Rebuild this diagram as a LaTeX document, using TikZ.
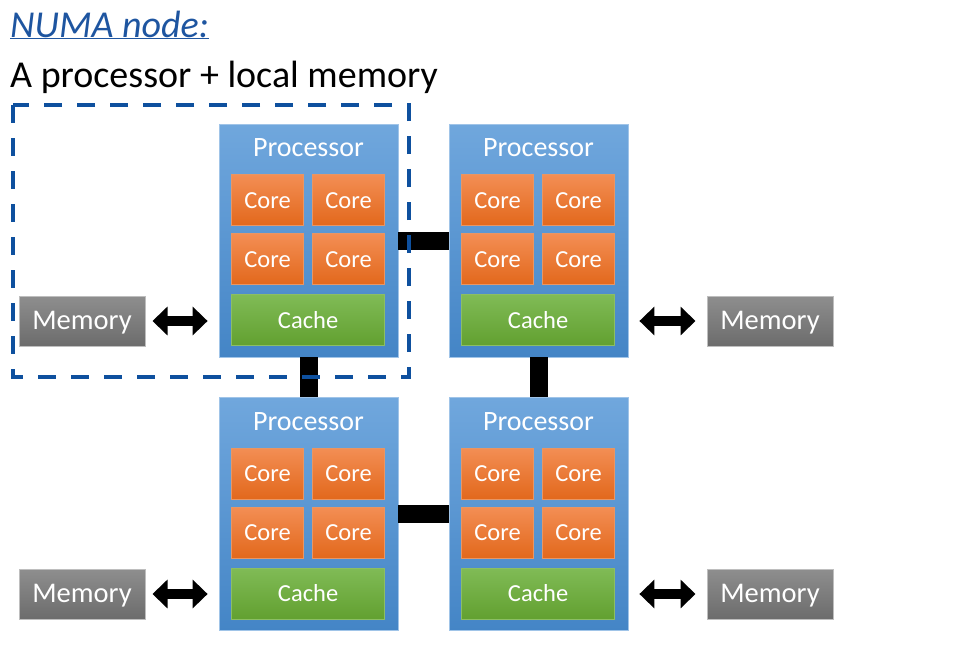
\documentclass[tikz,border=0pt]{standalone}
\usepackage{fontspec}
\setmainfont{Carlito}
\usetikzlibrary{arrows.meta}
\definecolor{procT}{RGB}{112,167,221}
\definecolor{procB}{RGB}{68,133,198}
\definecolor{procD}{RGB}{160,196,232}
\definecolor{coreT}{RGB}{243,142,84}
\definecolor{coreB}{RGB}{226,104,28}
\definecolor{coreD}{RGB}{232,150,100}
\definecolor{cacheT}{RGB}{128,187,86}
\definecolor{cacheB}{RGB}{98,160,48}
\definecolor{cacheD}{RGB}{140,190,100}
\definecolor{memT}{RGB}{142,142,142}
\definecolor{memB}{RGB}{108,108,108}
\definecolor{memD}{RGB}{190,190,190}
\definecolor{titleblue}{RGB}{30,85,160}
\definecolor{dashblue}{RGB}{14,80,158}
\tikzset{
  proc/.style={draw=procD, line width=0.8pt, top color=procT, bottom color=procB,
    minimum width=179pt, minimum height=233pt, inner sep=0pt},
  ptitle/.style={anchor=base, inner sep=0pt, text=white, font=\fontsize{28}{30}\selectfont},
  core/.style={draw=coreD, line width=0.6pt, top color=coreT, bottom color=coreB,
    minimum width=72pt, minimum height=51pt, inner sep=0pt, text=white,
    text height=16pt, text depth=0pt, font=\fontsize{24.5}{26}\selectfont},
  cache/.style={draw=cacheD, line width=0.6pt, top color=cacheT, bottom color=cacheB,
    minimum width=153pt, minimum height=51pt, inner sep=0pt, text=white,
    text height=16pt, text depth=0pt, font=\fontsize{24.5}{26}\selectfont},
  mem/.style={draw=memD, line width=1pt, top color=memT, bottom color=memB,
    minimum width=126pt, minimum height=50pt, inner sep=0pt, text=white,
    text height=18.5pt, text depth=1pt, font=\fontsize{28.5}{30}\selectfont},
  bus/.style={line width=18pt, black},
  dbl/.style={line width=10pt, black,
    {Triangle[length=15pt,width=28pt]}-{Triangle[length=15pt,width=28pt]}},
  dashbox/.style={draw=dashblue, line width=4pt, dash pattern=on 18pt off 15pt},
}
\newcommand\procunit[3]{%
  \node[proc] (#1) at (#2,#3) {};
  \node[ptitle] (#1t) at ([yshift=-33pt]#1.north) {Processor};
  \node[core] (#1a) at ([xshift=49pt,yshift=-76.5pt]#1.north west) {Core};
  \node[core] (#1b) at ([xshift=130pt,yshift=-76.5pt]#1.north west) {Core};
  \node[core] (#1c) at ([xshift=49pt,yshift=-135.5pt]#1.north west) {Core};
  \node[core] (#1d) at ([xshift=130pt,yshift=-135.5pt]#1.north west) {Core};
  \node[cache] (#1k) at ([xshift=89.5pt,yshift=-196.5pt]#1.north west) {Cache};
}
\begin{document}
\begin{tikzpicture}[x=1pt,y=-1pt]
\useasboundingbox (0,0) rectangle (961,648);
\node[anchor=base west, inner sep=0pt, text=titleblue, font=\fontsize{38}{40}\selectfont\itshape] (t1) at (10,37) {\underline{NUMA node:}};
\node[anchor=base west, inner sep=0pt, font=\fontsize{38}{40}\selectfont] (t2) at (10,87) {A processor + local memory};

\procunit{p1}{308.5}{240.5}
\procunit{p2}{538.5}{240.5}
\procunit{p3}{308.5}{514}
\procunit{p4}{538.5}{514}

\draw[bus] (p1) -- (p2);
\draw[bus] (p3) -- (p4);
\draw[bus] (p1) -- (p3);
\draw[bus] (p2) -- (p4);

\node[mem] (m1) at (82,321) {Memory};
\node[mem] (m2) at (770,321) {Memory};
\node[mem] (m3) at (82,594) {Memory};
\node[mem] (m4) at (770,594) {Memory};

\draw[dbl, shorten <=7pt, shorten >=11pt] (m1) -- (m1 -| p1.west);
\draw[dbl, shorten <=7pt, shorten >=11pt] (m3) -- (m3 -| p3.west);
\draw[dbl, shorten <=11pt, shorten >=11pt] (m2 -| p2.east) -- (m2);
\draw[dbl, shorten <=11pt, shorten >=11pt] (m4 -| p4.east) -- (m4);

\draw[dashbox] (13,105) rectangle (409,377);
\end{tikzpicture}
\end{document}
